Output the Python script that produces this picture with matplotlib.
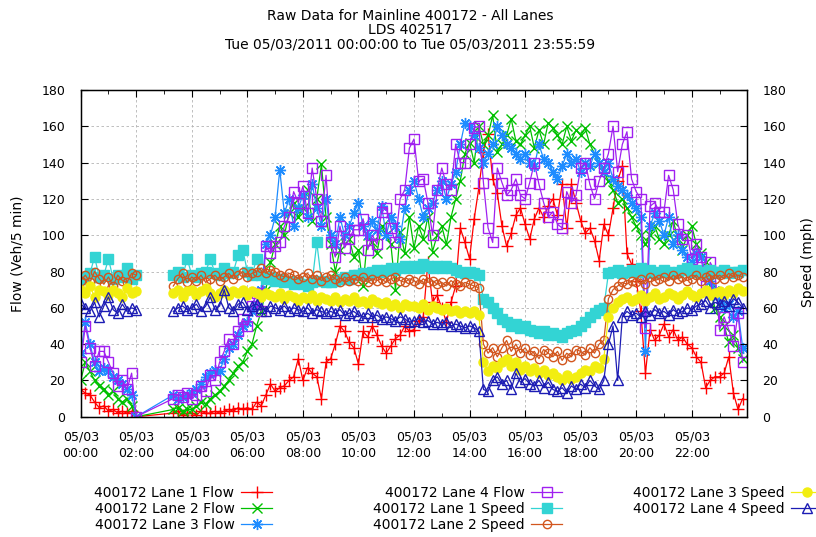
import numpy as np
import matplotlib.pyplot as plt
from matplotlib.ticker import MultipleLocator

nan = np.nan

# 10 minute samples, 00:00 .. 23:50
hours = np.arange(144) / 6.0

flow_lane1 = [
    15, 13, 12, 8, 5, 6, 3, 4, 2, 3, 2, 3,
    0, nan, nan, nan, nan, nan, nan, nan, 2, 3, 1, 2,
    2, 1, 3, 2, 2, 3, 2, 3, 4, 3, 5, 4,
    5, 4, 8, 6, 12, 18, 14, 16, 17, 20, 22, 32,
    20, 27, 24, 22, 10, 30, 32, 40, 50, 47, 41, 38,
    29, 47, 44, 50, 45, 39, 35, 39, 43, 45, 50, 47,
    48, 53, 55, 85, 63, 67, 60, 52, 63, 72, 104, 96,
    87, 109, 126, 146, 156, 131, 123, 105, 94, 101, 111, 115,
    106, 98, 109, 115, 110, 116, 120, 111, 128, 104, 128, 118,
    108, 101, 104, 97, 86, 106, 100, 115, 130, 138, 90, 84,
    75, 58, 24, 48, 42, 45, 51, 44, 48, 42, 44, 40,
    38, 33, 30, 16, 20, 22, 22, 24, 33, 13, 4, 10,
]
flow_lane2 = [
    20, 30, 25, 20, 17, 15, 12, 14, 10, 8, 10, 6,
    0, nan, nan, nan, nan, nan, nan, nan, 4, 5, 3, 4,
    4, 6, 8, 7, 10, 12, 14, 17, 20, 24, 28, 30,
    36, 40, 50, 58, 70, 85, 95, 105, 100, 112, 118, 110,
    115, 125, 108, 120, 139, 110, 95, 80, 92, 100, 98, 88,
    92, 72, 100, 96, 90, 105, 100, 95, 70, 102, 90, 110,
    93, 105, 98, 110, 91, 100, 105, 95, 110, 120, 130, 145,
    151, 140, 160, 150, 155, 166, 146, 150, 155, 164, 152, 150,
    155, 160, 148, 158, 150, 162, 159, 155, 150, 160, 152, 158,
    155, 159, 150, 145, 140, 135, 130, 125, 118, 120, 115, 110,
    105, 100, 95, 100, 105, 98, 95, 100, 108, 98, 92, 100,
    105, 95, 90, 85, 70, 60, 55, 50, 41, 45, 38, 32,
]
flow_lane3 = [
    35, 52, 40, 30, 25, 27, 25, 22, 20, 18, 15, 12,
    0, nan, nan, nan, nan, nan, nan, nan, 12, 10, 11, 12,
    13, 15, 18, 22, 24, 26, 25, 32, 38, 40, 45, 50,
    52, 58, 62, 70, 95, 100, 110, 136, 112, 120, 105, 115,
    122, 110, 128, 115, 105, 120, 100, 95, 110, 100, 105, 112,
    118, 105, 100, 108, 103, 116, 100, 110, 105, 98, 115, 125,
    130, 120, 110, 115, 118, 125, 130, 120, 128, 135, 150, 162,
    160, 155, 148, 140, 145, 150, 160, 155, 150, 148, 145, 142,
    145, 140, 138, 150, 142, 140, 135, 131, 138, 145, 140, 142,
    135, 140, 138, 145, 140, 135, 140, 131, 127, 125, 122, 118,
    115, 110, 36, 105, 112, 108, 100, 110, 95, 100, 92, 88,
    85, 90, 88, 80, 75, 70, 65, 60, 62, 55, 58, 38,
]
flow_lane4 = [
    30, 50, 38, 28, 36, 36, 30, 24, 17, 20, 15, 24,
    0, nan, nan, nan, nan, nan, nan, nan, 10, 12, 11, 13,
    10, 12, 17, 14, 23, 20, 30, 36, 43, 40, 47, 54,
    50, 61, 68, 58, 94, 90, 94, 96, 105, 110, 124, 118,
    127, 112, 137, 120, 108, 133, 96, 88, 105, 93, 98, 103,
    103, 109, 92, 100, 95, 113, 115, 104, 96, 120, 125, 148,
    153, 130, 131, 118, 100, 125, 137, 128, 125, 150, 140, 140,
    150, 159, 160, 129, 104, 96, 137, 129, 122, 125, 131, 122,
    120, 129, 140, 128, 118, 110, 113, 106, 104, 124, 118, 122,
    137, 140, 128, 120, 130, 137, 145, 160, 135, 150, 157, 131,
    124, 120, 49, 116, 118, 113, 113, 133, 125, 106, 98, 100,
    87, 95, 88, 72, 85, 80, 48, 55, 48, 39, 57, 30,
]

speed_lane1 = [
    76, 77, 79, 88, 77, 78, 87, 76, 78, 77, 82, 76,
    78, nan, nan, nan, nan, nan, nan, nan, 78, 80, 77, 87,
    78, 77, 79, 80, 87, 79, 78, 82, 79, 80, 89, 92,
    80, 78, 87, 78, 76, 77, 75, 76, 74, 75, 73, 74,
    73, 72, 74, 96, 75, 74, 74, 75, 76, 77, 76, 78,
    78, 79, 78, 80, 81, 80, 81, 82, 81, 82, 83, 82,
    83, 82, 84, 83, 82, 83, 82, 83, 82, 81, 80, 79,
    80, 79, 78, 65, 63, 60, 57, 54, 52, 50, 51, 49,
    50, 48, 47, 46, 47, 45, 46, 45, 44, 46, 47, 48,
    50, 52, 55, 57, 59, 60, 79, 80, 81, 79, 80, 81,
    80, 82, 80, 81, 79, 80, 81, 80, 79, 80, 81, 82,
    80, 81, 79, 80, 81, 79, 80, 81, 79, 80, 80, 81,
]
speed_lane2 = [
    75, 78, 74, 80, 76, 73, 77, 72, 78, 75, 74, 79,
    78, nan, nan, nan, nan, nan, nan, nan, 72, 76, 79, 74,
    77, 75, 78, 74, 76, 78, 75, 77, 79, 76, 78, 80,
    77, 79, 80, 82, 79, 81, 80, 78, 77, 79, 78, 76,
    77, 79, 76, 78, 75, 77, 78, 76, 74, 77, 75, 76,
    75, 77, 74, 76, 75, 76, 74, 76, 77, 75, 74, 76,
    75, 73, 76, 74, 75, 73, 74, 72, 75, 73, 72, 74,
    73, 72, 71, 40, 35, 38, 33, 38, 42, 36, 40, 35,
    38, 34, 36, 32, 37, 35, 33, 36, 31, 35, 33, 37,
    36, 34, 38, 35, 40, 42, 65, 70, 72, 74, 73, 75,
    74, 76, 73, 77, 75, 76, 77, 75, 78, 76, 77, 75,
    76, 78, 75, 77, 78, 76, 78, 76, 79, 77, 78, 77,
]
speed_lane3 = [
    70, 68, 72, 66, 70, 69, 67, 70, 68, 66, 71, 68,
    69, nan, nan, nan, nan, nan, nan, nan, 68, 70, 66, 69,
    70, 67, 69, 71, 68, 66, 68, 70, 67, 69, 68, 70,
    67, 69, 68, 66, 68, 67, 66, 68, 65, 67, 66, 64,
    66, 65, 67, 64, 66, 65, 64, 66, 63, 65, 64, 66,
    63, 64, 62, 65, 63, 62, 63, 61, 62, 60, 62, 61,
    61, 60, 62, 59, 61, 60, 59, 60, 58, 59, 57, 58,
    57, 58, 56, 30, 25, 28, 27, 30, 32, 28, 30, 26,
    28, 25, 27, 24, 26, 23, 24, 22, 20, 23, 21, 22,
    24, 26, 25, 28, 27, 32, 55, 60, 63, 65, 66, 64,
    65, 67, 64, 66, 68, 65, 66, 68, 67, 65, 67, 69,
    67, 66, 68, 70, 67, 68, 69, 67, 70, 68, 71, 69,
]
speed_lane4 = [
    62, 60, 58, 63, 55, 61, 66, 59, 57, 62, 58, 60,
    59, nan, nan, nan, nan, nan, nan, nan, 58, 60, 61, 59,
    60, 62, 58, 61, 66, 59, 61, 70, 60, 58, 62, 63,
    59, 61, 62, 60, 58, 61, 60, 59, 61, 58, 60, 59,
    58, 60, 57, 59, 58, 57, 58, 57, 59, 56, 57, 58,
    56, 55, 57, 55, 56, 54, 55, 54, 53, 55, 54, 52,
    53, 54, 52, 53, 51, 52, 51, 52, 50, 51, 50, 49,
    50, 49, 47, 15, 14, 20, 22, 18, 20, 15, 24, 19,
    21, 18, 17, 20, 16, 19, 15, 14, 16, 13, 17, 15,
    18, 16, 20, 17, 15, 20, 40, 50, 20, 55, 58, 56,
    57, 55, 58, 56, 59, 57, 58, 56, 59, 57, 58, 60,
    59, 61, 62, 64, 60, 63, 62, 64, 61, 65, 63, 60,
]

tick_hours = list(range(0, 24, 2))
tick_labels = ["05/03\n%02d:00" % h for h in tick_hours]

fig = plt.figure(figsize=(8.16, 5.37), dpi=100)
ax = fig.add_axes([0.0989, 0.224, 0.8169, 0.6084])
ax2 = ax.twinx()

# flows: left axis, lines bridge the missing stretch
flow_styles = [
    ("400172 Lane 1 Flow", flow_lane1, dict(color="#ff0000", marker="+", ms=9)),
    ("400172 Lane 2 Flow", flow_lane2, dict(color="#00c000", marker="x", ms=7)),
    ("400172 Lane 3 Flow", flow_lane3, dict(color="#1e8cff", marker=(8, 2, 0), ms=8)),
    ("400172 Lane 4 Flow", flow_lane4, dict(color="#a020f0", marker="s", ms=7, mfc="none")),
]
# speeds: right axis, gaps stay open
speed_styles = [
    ("400172 Lane 1 Speed", speed_lane1, dict(color="#33d4d4", marker="s", ms=6.5)),
    ("400172 Lane 2 Speed", speed_lane2, dict(color="#d2561e", marker="o", ms=6, mfc="none")),
    ("400172 Lane 3 Speed", speed_lane3, dict(color="#f2ee10", marker="o", ms=6.5)),
    ("400172 Lane 4 Speed", speed_lane4, dict(color="#1c1cb4", marker="^", ms=6.5, mfc="none")),
]

handles = []
for label, vals, st in flow_styles:
    v = np.array(vals, dtype=float)
    ok = np.isfinite(v)
    h, = ax.plot(hours[ok], v[ok], lw=0.9, mew=1.0, label=label, **st)
    handles.append(h)
for label, vals, st in speed_styles:
    v = np.array(vals, dtype=float)
    h, = ax2.plot(hours, v, lw=0.9, mew=1.0, label=label, **st)
    handles.append(h)

ax.set_xlim(0, 24)
ax.set_ylim(0, 180)
ax2.set_ylim(0, 180)
ax.set_xticks(tick_hours)
ax.set_xticklabels(tick_labels, linespacing=1.3)
ax.xaxis.set_minor_locator(MultipleLocator(1))
ax.yaxis.set_major_locator(MultipleLocator(20))
ax2.yaxis.set_major_locator(MultipleLocator(20))

ax.grid(True, which="major", color="#b4b4b4", linestyle=(0, (3, 3)), linewidth=0.6)
ax.set_axisbelow(True)

ax.tick_params(axis="x", which="both", direction="in", top=True, labelsize=9, pad=10)
ax.tick_params(axis="x", which="major", length=5)
ax.tick_params(axis="x", which="minor", length=3)
ax.tick_params(axis="y", direction="in", length=5, labelsize=9, pad=11)
ax2.tick_params(axis="y", direction="in", length=5, labelsize=9, pad=11)
for sp in ax.spines.values():
    sp.set_linewidth(1.0)

fig.text(18 / 816, 0.527, "Flow (Veh/5 min)", rotation=90, ha="center", va="center", fontsize=10)
fig.text(808 / 816, 0.512, "Speed (mph)", rotation=90, ha="center", va="center", fontsize=10)

fig.text(410 / 816, 1 - 9 / 537,
         "Raw Data for Mainline 400172 - All Lanes\nLDS 402517\n"
         "Tue 05/03/2011 00:00:00 to Tue 05/03/2011 23:55:59",
         ha="center", va="top", fontsize=10, linespacing=1.0)

legend_cols = [(handles[0:3], 272), (handles[3:6], 562), (handles[6:8], 822)]
for hs, xr in legend_cols:
    fig.legend(hs, [h.get_label() for h in hs], loc="upper right",
               bbox_to_anchor=(xr / 816, 1 - 486 / 537), frameon=False,
               markerfirst=False, numpoints=1, fontsize=10, handlelength=2.2,
               handletextpad=0.5, labelspacing=0.14, borderpad=0, borderaxespad=0)

fig.savefig("out.png", dpi=100)
